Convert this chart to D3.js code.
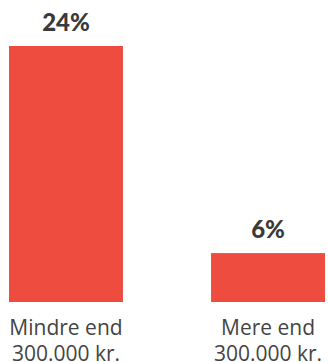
<!DOCTYPE html>
<html lang="da">
<head>
  <meta charset="UTF-8">
  <title>Indkomst</title>
  <script src="https://d3js.org/d3.v7.min.js"></script>
  <style>
    body { margin: 0; background: #fff; }
    svg { display: block; }
  </style>
</head>
<body>
  <div id="chart"></div>
  <script>
    const categories = [["Mindre end", "300.000 kr."], ["Mere end", "300.000 kr."]];
    const values = [24, 6];
    const valueLabels = ["24%", "6%"];

    const width = 328;
    const height = 362;

    const x = d3.scaleBand()
      .domain(d3.range(categories.length))
      .range([9, 325])
      .paddingInner(0.436);

    // baseline of chart sits a little above zero in the original
    const y = d3.scaleLinear()
      .domain([1.75, 24])
      .range([302, 46]);

    const svg = d3.select("#chart").append("svg")
      .attr("width", width)
      .attr("height", height);

    svg.append("g")
      .selectAll("rect")
      .data(values)
      .enter().append("rect")
        .attr("x", (d, i) => x(i))
        .attr("y", d => y(d))
        .attr("width", x.bandwidth())
        .attr("height", d => y.range()[0] - y(d))
        .attr("fill", "#ee4c3f");

    svg.append("g")
      .selectAll("text")
      .data(values)
      .enter().append("text")
        .attr("x", (d, i) => x(i) + x.bandwidth() / 2)
        .attr("y", d => y(d) - 15)
        .attr("text-anchor", "middle")
        .attr("font-family", "Lato, 'Open Sans', sans-serif")
        .attr("font-weight", 900)
        .attr("font-size", 24)
        .attr("fill", "#3a3a3a")
        .text((d, i) => valueLabels[i]);

    const cat = svg.append("g")
      .selectAll("text")
      .data(categories)
      .enter().append("text")
        .attr("x", (d, i) => x(i) + x.bandwidth() / 2)
        .attr("y", 335)
        .attr("text-anchor", "middle")
        .attr("font-family", "'Open Sans', sans-serif")
        .attr("font-size", 21)
        .attr("fill", "#444");

    cat.selectAll("tspan")
      .data(d => d)
      .enter().append("tspan")
        .attr("x", function() { return d3.select(this.parentNode).attr("x"); })
        .attr("dy", (d, i) => i === 0 ? 0 : 25.7)
        .text(d => d);
  </script>
</body>
</html>
